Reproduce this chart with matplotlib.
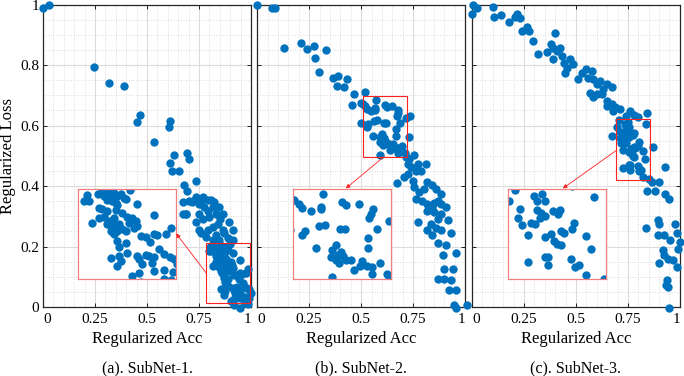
import numpy as np
import matplotlib.pyplot as plt
from matplotlib.ticker import MultipleLocator

plt.rcParams['font.family'] = ['Liberation Serif', 'DejaVu Serif']
plt.rcParams['mathtext.fontset'] = 'stix'

# ---------------- data (Regularized Acc, Regularized Loss) ----------------
# SubNet-1
acc1 = [0.0, 0.03, 0.243, 0.315, 0.390, 0.464, 0.454, 0.611, 0.605, 0.531,
        0.629, 0.608, 0.621, 0.655, 0.691, 0.704, 0.680, 0.693, 0.736, 0.672,
        0.685, 0.717, 0.720, 0.736, 0.760, 0.771, 0.792, 0.808, 0.824, 0.848,
        0.776, 0.792, 0.752, 0.768, 0.816, 0.832, 0.851, 0.893, 0.840, 0.816,
        0.792, 0.752, 0.736, 0.784, 0.832, 0.872, 0.912, 0.888, 0.760, 0.672,
        0.688, 0.704, 0.752, 0.800, 0.864, 0.864, 0.816, 0.848, 0.912,
        0.945, 0.998, 0.985, 0.920]
loss1 = [0.99, 1.0, 0.794, 0.740, 0.730, 0.634, 0.610, 0.614, 0.596, 0.546,
         0.501, 0.475, 0.451, 0.451, 0.508, 0.490, 0.402, 0.385, 0.418, 0.347,
         0.308, 0.347, 0.352, 0.363, 0.352, 0.363, 0.355, 0.355, 0.347, 0.330,
         0.330, 0.317, 0.308, 0.292, 0.330, 0.308, 0.292, 0.281, 0.276, 0.265,
         0.254, 0.254, 0.281, 0.232, 0.237, 0.243, 0.254, 0.229, 0.243, 0.308,
         0.308, 0.352, 0.341, 0.297, 0.308, 0.254, 0.221, 0.221, 0.221,
         -0.003, 0.045, 0.010, 0.007]
# points inside the zoomed window of SubNet-1
acc1_z = [0.804, 0.797, 0.809, 0.827, 0.837, 0.841, 0.852, 0.857, 0.862, 0.870,
          0.877, 0.884, 0.888, 0.897, 0.848, 0.859, 0.866, 0.870, 0.830, 0.837,
          0.848, 0.866, 0.880, 0.913, 0.949, 0.816, 0.830, 0.841, 0.852, 0.862,
          0.848, 0.855, 0.862, 0.873, 0.891, 0.902, 0.895, 0.909, 0.906, 0.913,
          0.870, 0.880, 0.888, 0.855, 0.862, 0.920, 0.931, 0.949, 0.956, 0.940,
          0.974, 0.986, 0.870, 0.888, 0.873, 0.855, 0.873, 0.877, 0.891, 0.913,
          0.916, 0.931, 0.938, 0.949, 0.945, 0.923, 0.959, 0.970, 0.984, 0.992,
          0.916, 0.902, 0.949, 0.970, 0.990, 0.971, 0.870]
loss1_z = [0.197, 0.184, 0.184, 0.200, 0.205, 0.195, 0.205, 0.199, 0.203, 0.195,
           0.199, 0.192, 0.188, 0.208, 0.186, 0.184, 0.181, 0.176, 0.168, 0.166,
           0.162, 0.164, 0.159, 0.178, 0.154, 0.137, 0.148, 0.149, 0.140, 0.148,
           0.133, 0.129, 0.133, 0.134, 0.149, 0.148, 0.137, 0.140, 0.126, 0.129,
           0.118, 0.122, 0.118, 0.118, 0.111, 0.107, 0.105, 0.111, 0.110, 0.094,
           0.111, 0.124, 0.096, 0.093, 0.083, 0.060, 0.063, 0.052, 0.071, 0.063,
           0.056, 0.066, 0.063, 0.061, 0.049, 0.045, 0.078, 0.067, 0.061, 0.058,
           0.027, 0.019, 0.030, 0.032, 0.029, 0.013, 0.041]

# SubNet-2
acc2 = [0.0, 0.069, 0.085, 0.129, 0.211, 0.239, 0.271, 0.279, 0.332, 0.298,
        0.365, 0.389, 0.384, 0.432, 0.419, 0.465, 0.458, 0.519, 0.500, 0.500,
        0.735, 0.731, 0.731, 0.755, 0.723, 0.739, 0.771, 0.763, 0.787, 0.811,
        0.706, 0.747, 0.674, 0.755, 0.779, 0.819, 0.843, 0.884, 0.860, 0.763,
        0.795, 0.819, 0.843, 0.868, 0.884, 0.819, 0.852, 0.884, 0.908, 0.868,
        0.916, 0.771, 0.835, 0.819, 0.843, 0.884, 0.932, 0.868, 0.908, 0.892,
        0.956, 0.900, 0.940, 0.868, 0.900, 0.932, 0.924, 0.956, 0.948, 0.956,
        1.008, 0.725, 0.800, 0.850, 0.860]
loss2 = [0.998, 0.989, 0.987, 0.855, 0.872, 0.852, 0.863, 0.824, 0.849, 0.778,
         0.758, 0.764, 0.731, 0.753, 0.728, 0.704, 0.668, 0.712, 0.676, 0.607,
         0.632, 0.561, 0.490, 0.501, 0.473, 0.462, 0.473, 0.451, 0.451, 0.473,
         0.429, 0.418, 0.409, 0.396, 0.380, 0.413, 0.402, 0.374, 0.391, 0.358,
         0.352, 0.341, 0.330, 0.352, 0.341, 0.319, 0.314, 0.308, 0.330, 0.292,
         0.286, 0.281, 0.276, 0.254, 0.237, 0.254, 0.243, 0.210, 0.204, 0.171,
         0.177, 0.127, 0.127, 0.094, 0.094, 0.089, 0.056, 0.056, 0.007, -0.004,
         0.007, 0.440, 0.390, 0.345, 0.260]
acc2_z = [0.510, 0.520, 0.527, 0.571, 0.546, 0.568, 0.568, 0.613, 0.622, 0.649,
          0.679, 0.672, 0.676, 0.715, 0.532, 0.527, 0.564, 0.577, 0.609, 0.620,
          0.688, 0.669, 0.556, 0.599, 0.592, 0.589, 0.604, 0.611, 0.615, 0.606,
          0.622, 0.633, 0.655, 0.651, 0.639, 0.666, 0.678, 0.695, 0.669, 0.592,
          0.678, 0.710, 0.714, 0.600]
loss2_z = [0.672, 0.664, 0.654, 0.685, 0.648, 0.657, 0.652, 0.667, 0.661, 0.663,
           0.652, 0.633, 0.641, 0.626, 0.605, 0.595, 0.615, 0.617, 0.608, 0.608,
           0.609, 0.589, 0.566, 0.573, 0.561, 0.546, 0.552, 0.558, 0.549, 0.534,
           0.541, 0.539, 0.538, 0.526, 0.518, 0.526, 0.524, 0.533, 0.566, 0.502,
           0.510, 0.508, 0.497, 0.541]

# SubNet-3
acc3 = [0.005, 0.0, 0.024, 0.099, 0.104, 0.139, 0.176, 0.208, 0.219, 0.232,
        0.240, 0.264, 0.272, 0.293, 0.320, 0.363, 0.397, 0.379, 0.392, 0.408,
        0.424, 0.389, 0.432, 0.443, 0.456, 0.472, 0.488, 0.448, 0.512, 0.528,
        0.549, 0.576, 0.560, 0.584, 0.600, 0.616, 0.632, 0.648, 0.672, 0.624,
        0.584, 0.600, 0.568, 0.648, 0.672, 0.688, 0.648, 0.680, 0.712, 0.760,
        0.840, 0.672, 0.869, 0.928, 0.901, 0.840, 0.880, 0.928, 0.949, 0.896,
        0.901, 0.837, 0.896, 0.923, 0.976, 0.984, 0.952, 1.0, 0.992, 0.920,
        0.923, 0.944, 0.968, 0.984, 0.899, 0.936, 0.944, 0.933, 0.949, 0.864,
        0.740, 0.800, 0.780]
loss3 = [0.998, 0.967, 0.989, 0.992, 0.958, 0.965, 0.943, 0.958, 0.969, 0.954,
         0.914, 0.925, 0.914, 0.879, 0.838, 0.844, 0.907, 0.868, 0.857, 0.846,
         0.857, 0.819, 0.830, 0.808, 0.791, 0.819, 0.802, 0.775, 0.753, 0.775,
         0.786, 0.780, 0.756, 0.753, 0.737, 0.748, 0.720, 0.737, 0.726, 0.704,
         0.693, 0.704, 0.709, 0.682, 0.671, 0.660, 0.665, 0.649, 0.654, 0.649,
         0.640, 0.566, 0.528, 0.462, 0.413, 0.383, 0.385, 0.374, 0.358, 0.286,
         0.276, 0.262, 0.237, 0.237, 0.276, 0.243, 0.221, 0.215, 0.193, 0.188,
         0.171, 0.160, 0.155, 0.133, 0.146, 0.089, 0.067, 0.072, -0.004, 0.413,
         0.630, 0.628, 0.636]
acc3_z = [0.706, 0.696, 0.737, 0.750, 0.742, 0.755, 0.835, 0.713, 0.711, 0.717,
          0.732, 0.739, 0.742, 0.748, 0.755, 0.747, 0.768, 0.779, 0.776, 0.726,
          0.755, 0.765, 0.769, 0.775, 0.781, 0.781, 0.786, 0.800, 0.803, 0.822,
          0.831, 0.755, 0.760, 0.727, 0.760, 0.798, 0.804, 0.811, 0.822, 0.853]
loss3_z = [0.619, 0.596, 0.606, 0.611, 0.596, 0.596, 0.605, 0.578, 0.558, 0.541,
           0.546, 0.543, 0.574, 0.569, 0.561, 0.558, 0.573, 0.576, 0.567, 0.519,
           0.514, 0.522, 0.506, 0.498, 0.497, 0.528, 0.524, 0.532, 0.546, 0.517,
           0.488, 0.470, 0.470, 0.459, 0.453, 0.465, 0.448, 0.452, 0.430, 0.422]

panels = [
    dict(acc=acc1 + acc1_z, loss=loss1 + loss1_z, title='(a). SubNet-1.',
         win=(0.785, 0.995, 0.012, 0.21), box=(0.168, 0.637, 0.091, 0.389),
         arrow=((0.785, 0.112), (0.640, 0.243))),
    dict(acc=acc2 + acc2_z, loss=loss2 + loss2_z, title='(b). SubNet-2.',
         win=(0.508, 0.719, 0.497, 0.696), box=(0.174, 0.645, 0.091, 0.389),
         arrow=((0.610, 0.497), (0.426, 0.392))),
    dict(acc=acc3 + acc3_z, loss=loss3 + loss3_z, title='(c). SubNet-3.',
         win=(0.693, 0.855, 0.420, 0.621), box=(0.171, 0.643, 0.091, 0.389),
         arrow=((0.693, 0.517), (0.437, 0.392))),
]

blue = '#0072BD'
fig = plt.figure(figsize=(6.84, 3.76), dpi=100)
lefts = [0.063, 0.376, 0.690]
width = 0.304

for i, p in enumerate(panels):
    ax = fig.add_axes([lefts[i], 0.1835, width, 0.8045])
    ax.set_xlim(0, 1)
    ax.set_ylim(0, 1)
    ax.xaxis.set_minor_locator(MultipleLocator(0.05))
    ax.yaxis.set_minor_locator(MultipleLocator(0.05))
    ax.set_xticks([0, 0.25, 0.5, 0.75, 1])
    ax.set_xticklabels(['0', '0.25', '0.5', '0.75', '1'])
    xl = ax.get_xticklabels()
    xl[0].set_ha('left')
    xl[-1].set_ha('right')
    ax.set_yticks([0, 0.2, 0.4, 0.6, 0.8, 1])
    ax.grid(which='major', color='#dcdcdc', lw=0.8)
    ax.grid(which='minor', color='#d0d0d0', lw=0.6, ls=(0, (1, 2)))
    ax.set_axisbelow(True)
    ax.tick_params(which='both', direction='in', top=True, right=True,
                   labelsize=11)
    ax.tick_params(axis='x', pad=4)
    ax.tick_params(axis='y', pad=3)
    ax.tick_params(which='major', length=3, width=0.6)
    ax.tick_params(which='minor', length=0)
    for s in ax.spines.values():
        s.set_color('#262626')
        s.set_linewidth(0.9)
    if i == 0:
        ax.set_yticklabels(['0', '0.2', '0.4', '0.6', '0.8', '1'])
        ax.set_ylabel('Regularized Loss', fontsize=12, labelpad=3)
    else:
        ax.set_yticklabels([])
    ax.set_xlabel('Regularized Acc', fontsize=12, labelpad=4)

    ax.scatter(p['acc'], p['loss'], s=36, color=blue, lw=0, clip_on=False, zorder=3)

    x0, x1, y0, y1 = p['win']
    ax.add_patch(plt.Rectangle((x0, y0), x1 - x0, y1 - y0, fill=False,
                               ec='#ff2020', lw=0.8, zorder=4, clip_on=False))
    bx0, bx1, by0, by1 = p['box']
    ins = ax.inset_axes([bx0, by0, bx1 - bx0, by1 - by0], transform=ax.transData,
                        zorder=5)
    ins.set_xlim(x0, x1)
    ins.set_ylim(y0, y1)
    ins.set_xticks([])
    ins.set_yticks([])
    ins.set_facecolor('white')
    for s in ins.spines.values():
        s.set_color('#f08080')
        s.set_linewidth(0.9)
    ins.scatter(p['acc'], p['loss'], s=36, color=blue, lw=0)

    (ax0, ay0), (ax1, ay1) = p['arrow']
    ax.annotate('', xy=(ax1, ay1), xytext=(ax0, ay0),
                arrowprops=dict(arrowstyle='-|>', color='#ff2020', lw=0.6,
                                mutation_scale=6, shrinkA=0, shrinkB=0),
                zorder=6)

    fig.text(lefts[i] + width / 2, 0.021, p['title'], ha='center', va='center',
             fontsize=11.5)

fig.savefig('out.png', dpi=100)
